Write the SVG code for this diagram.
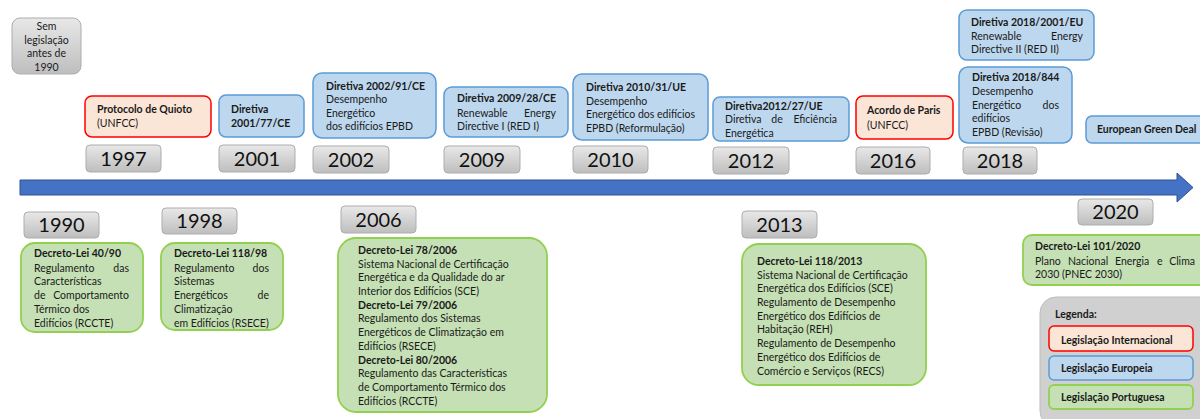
<svg xmlns="http://www.w3.org/2000/svg" width="1200" height="419" viewBox="0 0 1200 419">
  <defs>
    <linearGradient id="grayGrad" x1="0" y1="0" x2="0" y2="1">
      <stop offset="0" stop-color="#E8E8E8"/>
      <stop offset="1" stop-color="#BEBEBE"/>
    </linearGradient>
    <style>
      .yr rect { fill: url(#grayGrad); stroke: #ADADAD; stroke-width: 1; }
      .yr text { font-family: Lato, "Open Sans", sans-serif; font-size: 20px; fill: #111; text-anchor: middle; }
      .intl { fill: #FBE5D6; stroke: #FF0000; stroke-width: 1.5; }
      .eu { fill: #BDD7EE; stroke: #5B9BD5; stroke-width: 1.5; }
      .pt { fill: #C5E0B4; stroke: #92D050; stroke-width: 1.8; }
      .note { fill: url(#grayGrad); stroke: #ADADAD; stroke-width: 1; }
      .t { font-family: Lato, "Open Sans", sans-serif; font-size: 10.5px; fill: #1a1a1a; }
      .b { font-weight: bold; }
      .e { text-anchor: end; }
      .m { text-anchor: middle; }
    </style>
  </defs>

  <rect width="1200" height="419" fill="#FFFFFF"/>

  <!-- timeline axis -->
  <g id="connectors">
    <path d="M20,180 H1177 V173 L1193,187.5 L1177,202 V195 H20 Z" fill="#4472C4" stroke="#2F528F" stroke-width="1"/>
  </g>

  <!-- before 1990 -->
  <g id="sem-legislacao">
    <rect class="note" x="12" y="18" width="69" height="56" rx="8"/>
    <text class="t m" x="46.5" y="30">Sem</text>
    <text class="t m" x="46.5" y="44">legislação</text>
    <text class="t m" x="46.5" y="57">antes de</text>
    <text class="t m" x="46.5" y="71">1990</text>
  </g>

  <!-- year labels above the axis -->
  <g id="y1997" class="yr"><rect x="86" y="145" width="75" height="27" rx="4"/><text x="123.5" y="166">1997</text></g>
  <g id="y2001" class="yr"><rect x="219" y="145" width="76" height="27" rx="4"/><text x="257" y="166">2001</text></g>
  <g id="y2002" class="yr"><rect x="313" y="146" width="76" height="27" rx="4"/><text x="351" y="167">2002</text></g>
  <g id="y2009" class="yr"><rect x="444" y="146" width="76" height="27" rx="4"/><text x="482" y="167">2009</text></g>
  <g id="y2010" class="yr"><rect x="573" y="146" width="75" height="27" rx="4"/><text x="610.5" y="167">2010</text></g>
  <g id="y2012" class="yr"><rect x="713" y="147" width="76" height="27" rx="4"/><text x="751" y="168">2012</text></g>
  <g id="y2016" class="yr"><rect x="856" y="147" width="74" height="27" rx="4"/><text x="893" y="168">2016</text></g>
  <g id="y2018" class="yr"><rect x="963" y="147" width="74" height="27" rx="4"/><text x="1000" y="168">2018</text></g>

  <!-- year labels below the axis -->
  <g id="y1990" class="yr"><rect x="24" y="212" width="75" height="26" rx="4"/><text x="61.5" y="232">1990</text></g>
  <g id="y1998" class="yr"><rect x="162" y="208" width="75" height="26" rx="4"/><text x="199.5" y="228">1998</text></g>
  <g id="y2006" class="yr"><rect x="341" y="206" width="75" height="27" rx="4"/><text x="378.5" y="226.5">2006</text></g>
  <g id="y2013" class="yr"><rect x="742" y="211" width="75" height="27" rx="4"/><text x="779.5" y="232">2013</text></g>
  <g id="y2020" class="yr"><rect x="1078" y="199" width="75" height="26" rx="4"/><text x="1115.5" y="219">2020</text></g>

  <!-- international -->
  <g id="protocolo-quioto">
    <rect class="intl" x="85" y="96" width="126" height="41" rx="7"/>
    <text class="t b" x="97" y="113">Protocolo de Quioto</text>
    <text class="t" x="97" y="127">(UNFCC)</text>
  </g>
  <g id="acordo-paris">
    <rect class="intl" x="856" y="96" width="97" height="43" rx="7"/>
    <text class="t b" x="867" y="114">Acordo de Paris</text>
    <text class="t" x="867" y="129">(UNFCC)</text>
  </g>

  <!-- european -->
  <g id="diretiva-2001-77">
    <rect class="eu" x="219" y="95" width="85" height="42" rx="7"/>
    <text class="t b" x="231" y="113">Diretiva</text>
    <text class="t b" x="231" y="127">2001/77/CE</text>
  </g>
  <g id="diretiva-2002-91">
    <rect class="eu" x="313" y="73" width="123" height="65" rx="9"/>
    <text class="t b" x="326" y="90">Diretiva 2002/91/CE</text>
    <text class="t" x="326" y="103">Desempenho</text>
    <text class="t" x="326" y="117">Energético</text>
    <text class="t" x="326" y="130">dos edifícios EPBD</text>
  </g>
  <g id="diretiva-2009-28">
    <rect class="eu" x="444" y="87" width="124" height="50" rx="8"/>
    <text class="t b" x="457" y="102">Diretiva 2009/28/CE</text>
    <text class="t" x="457" y="117">Renewable</text>
    <text class="t e" x="556" y="117">Energy</text>
    <text class="t" x="457" y="130">Directive I (RED I)</text>
  </g>
  <g id="diretiva-2010-31">
    <rect class="eu" x="573" y="74" width="135" height="66" rx="9"/>
    <text class="t b" x="586" y="91">Diretiva 2010/31/UE</text>
    <text class="t" x="586" y="105">Desempenho</text>
    <text class="t" x="586" y="118">Energético dos edifícios</text>
    <text class="t" x="586" y="132">EPBD (Reformulação)</text>
  </g>
  <g id="diretiva-2012-27">
    <rect class="eu" x="713" y="97" width="136" height="44" rx="7"/>
    <text class="t b" x="725" y="110">Diretiva2012/27/UE</text>
    <text class="t" x="725" y="123">Diretiva</text>
    <text class="t m" x="777" y="123">de</text>
    <text class="t e" x="837" y="123">Eficiência</text>
    <text class="t" x="725" y="137">Energética</text>
  </g>
  <g id="diretiva-2018-2001">
    <rect class="eu" x="959" y="10" width="135" height="50" rx="8"/>
    <text class="t b" x="971" y="26">Diretiva 2018/2001/EU</text>
    <text class="t" x="971" y="40">Renewable</text>
    <text class="t e" x="1083" y="40">Energy</text>
    <text class="t" x="971" y="53">Directive II (RED II)</text>
  </g>
  <g id="diretiva-2018-844">
    <rect class="eu" x="959" y="67" width="113" height="76" rx="9"/>
    <text class="t b" x="972" y="81">Diretiva 2018/844</text>
    <text class="t" x="972" y="95">Desempenho</text>
    <text class="t" x="972" y="109">Energético</text>
    <text class="t e" x="1059" y="109">dos</text>
    <text class="t" x="972" y="122">edifícios</text>
    <text class="t" x="972" y="136">EPBD (Revisão)</text>
  </g>
  <g id="green-deal">
    <rect class="eu" x="1086" y="116" width="130" height="27" rx="6"/>
    <text class="t b" x="1097" y="133">European Green Deal</text>
  </g>

  <!-- portuguese -->
  <g id="dl-40-90">
    <rect class="pt" x="21" y="243" width="122" height="89" rx="14"/>
    <text class="t b" x="34" y="257">Decreto-Lei 40/90</text>
    <text class="t" x="34" y="271.5">Regulamento</text>
    <text class="t e" x="129" y="271.5">das</text>
    <text class="t" x="34" y="285">Características</text>
    <text class="t" x="34" y="299">de</text>
    <text class="t e" x="129" y="299">Comportamento</text>
    <text class="t" x="34" y="312.5">Térmico dos</text>
    <text class="t" x="34" y="326.5">Edifícios (RCCTE)</text>
  </g>
  <g id="dl-118-98">
    <rect class="pt" x="161" y="243" width="122" height="87" rx="14"/>
    <text class="t b" x="174" y="257">Decreto-Lei 118/98</text>
    <text class="t" x="174" y="271.5">Regulamento</text>
    <text class="t e" x="269" y="271.5">dos</text>
    <text class="t" x="174" y="285">Sistemas</text>
    <text class="t" x="174" y="299">Energéticos</text>
    <text class="t e" x="269" y="299">de</text>
    <text class="t" x="174" y="312.5">Climatização</text>
    <text class="t" x="174" y="326.5">em Edifícios (RSECE)</text>
  </g>
  <g id="dl-2006">
    <rect class="pt" x="338" y="238" width="209" height="174" rx="18"/>
    <text class="t b" x="358" y="254">Decreto-Lei 78/2006</text>
    <text class="t" x="358" y="267.5">Sistema Nacional de Certificação</text>
    <text class="t" x="358" y="281">Energética e da Qualidade do ar</text>
    <text class="t" x="358" y="295">Interior dos Edifícios (SCE)</text>
    <text class="t b" x="358" y="308.5">Decreto-Lei 79/2006</text>
    <text class="t" x="358" y="322">Regulamento dos Sistemas</text>
    <text class="t" x="358" y="336">Energéticos de Climatização em</text>
    <text class="t" x="358" y="350">Edifícios (RSECE)</text>
    <text class="t b" x="358" y="363.5">Decreto-Lei 80/2006</text>
    <text class="t" x="358" y="377">Regulamento das Características</text>
    <text class="t" x="358" y="391">de Comportamento Térmico dos</text>
    <text class="t" x="358" y="404.5">Edifícios (RCCTE)</text>
  </g>
  <g id="dl-118-2013">
    <rect class="pt" x="742" y="244" width="184" height="141" rx="17"/>
    <text class="t b" x="757" y="265">Decreto-Lei 118/2013</text>
    <text class="t" x="757" y="278.5">Sistema Nacional de Certificação</text>
    <text class="t" x="757" y="292">Energética dos Edifícios (SCE)</text>
    <text class="t" x="757" y="306">Regulamento de Desempenho</text>
    <text class="t" x="757" y="319.5">Energético dos Edifícios de</text>
    <text class="t" x="757" y="333">Habitação (REH)</text>
    <text class="t" x="757" y="347">Regulamento de Desempenho</text>
    <text class="t" x="757" y="361">Energético dos Edifícios de</text>
    <text class="t" x="757" y="374.5">Comércio e Serviços (RECS)</text>
  </g>
  <g id="dl-101-2020">
    <rect class="pt" x="1023" y="235" width="200" height="50" rx="9"/>
    <text class="t b" x="1035" y="250">Decreto-Lei 101/2020</text>
    <text class="t" x="1035" y="265">Plano</text>
    <text class="t" x="1068" y="265">Nacional</text>
    <text class="t" x="1115" y="265">Energia</text>
    <text class="t" x="1157" y="265">e</text>
    <text class="t e" x="1195" y="265">Clima</text>
    <text class="t" x="1035" y="278">2030 (PNEC 2030)</text>
  </g>

  <!-- legend -->
  <g id="legenda">
    <rect x="1040" y="297" width="180" height="130" rx="16" fill="#D0D0D0" stroke="#BDBDBD" stroke-width="1"/>
    <text class="t b" x="1055" y="318">Legenda:</text>
    <rect class="intl" x="1049" y="326" width="144" height="25" rx="5"/>
    <text class="t b" x="1061" y="344">Legislação Internacional</text>
    <rect class="eu" x="1049" y="356" width="144" height="24" rx="5"/>
    <text class="t b" x="1061" y="372">Legislação Europeia</text>
    <rect class="pt" x="1049" y="385" width="144" height="24" rx="5"/>
    <text class="t b" x="1061" y="401">Legislação Portuguesa</text>
  </g>
</svg>
